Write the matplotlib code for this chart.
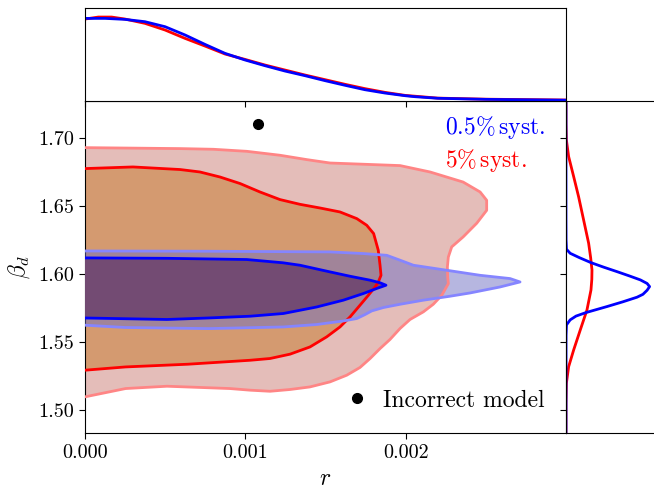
import numpy as np
import matplotlib
matplotlib.use("Agg")
import matplotlib.pyplot as plt

plt.rcParams["font.family"] = "serif"
plt.rcParams["font.serif"] = ["cmr10"]
plt.rcParams["mathtext.fontset"] = "cm"
plt.rcParams["axes.formatter.use_mathtext"] = True

# --- contour outlines (r, beta_d), open along r = 0 ---
red95_r = [0, 0.000253, 0.000593, 0.0008, 0.001009, 0.001216, 0.001383, 0.001528,
           0.001736, 0.001965, 0.002152, 0.002358, 0.002464, 0.002505, 0.002505,
           0.002443, 0.002358, 0.002287, 0.002266, 0.00226, 0.002262, 0.002266,
           0.002225, 0.002172, 0.00211, 0.002027, 0.001965, 0.001902, 0.00184,
           0.001778, 0.001715, 0.001632, 0.001528, 0.001403, 0.001279, 0.001154,
           0.001029, 0.000904, 0.000511, 0.000253, 0]
red95_b = [1.6929, 1.6926, 1.6922, 1.6917, 1.6902, 1.6873, 1.6841, 1.6816,
           1.6807, 1.6797, 1.6750, 1.6676, 1.6603, 1.6542, 1.6468,
           1.6373, 1.6272, 1.6199, 1.6125, 1.6051, 1.5975, 1.5929,
           1.5843, 1.5777, 1.5721, 1.5665, 1.5599, 1.5518, 1.5451,
           1.5378, 1.5312, 1.5255, 1.5206, 1.5169, 1.5150, 1.5137,
           1.5145, 1.5157, 1.5174, 1.5157, 1.5096]

red68_r = [0, 0.000299, 0.000593, 0.000717, 0.000842, 0.000967, 0.001091, 0.001216,
           0.001341, 0.001466, 0.00159, 0.001695, 0.001757, 0.0018, 0.001829,
           0.00184, 0.001846, 0.001829, 0.001809, 0.001767, 0.001715, 0.001653,
           0.00159, 0.001507, 0.001403, 0.001279, 0.001154, 0.001029, 0.000642,
           0.000253, 0]
red68_b = [1.6775, 1.6787, 1.6768, 1.6750, 1.6713, 1.6665, 1.6603, 1.6547,
           1.6512, 1.6485, 1.6456, 1.6407, 1.6358, 1.6297, 1.6174,
           1.6064, 1.5990, 1.5940, 1.5904, 1.5843, 1.5770, 1.5684,
           1.5610, 1.5537, 1.5463, 1.5410, 1.5378, 1.5365, 1.5336,
           1.5316, 1.5292]

blue95_r = [0, 0.000773, 0.001528, 0.001736, 0.001882, 0.001965, 0.002048, 0.002256,
            0.002464, 0.002651, 0.002713, 0.002588, 0.002401, 0.002276, 0.00211,
            0.001965, 0.001861, 0.001788, 0.001746, 0.001695, 0.001611, 0.001445,
            0.001237, 0.000773, 0.000253, 0]
blue95_b = [1.6169, 1.6167, 1.6162, 1.6150, 1.6137, 1.6101, 1.6064, 1.6027,
            1.5990, 1.5966, 1.5941, 1.5904, 1.5860, 1.5836, 1.5807,
            1.5777, 1.5753, 1.5728, 1.5701, 1.5672, 1.5654, 1.5628,
            1.5610, 1.5598, 1.5606, 1.5623]

blue68_r = [0, 0.000511, 0.001009, 0.001235, 0.001341, 0.001528, 0.001653, 0.001778,
            0.00184, 0.001877, 0.001819, 0.001736, 0.001611, 0.001445, 0.001237,
            0.001029, 0.000767, 0.000511, 0]
blue68_b = [1.6118, 1.6115, 1.6106, 1.6082, 1.6064, 1.6015, 1.5983, 1.5954,
            1.5935, 1.5917, 1.5893, 1.5856, 1.5807, 1.5757, 1.5709,
            1.5689, 1.5676, 1.5665, 1.5676]

# --- marginal densities ---
top_r_blue = [0, 0.000125, 0.000249, 0.000374, 0.000499, 0.000624, 0.000748, 0.000873,
              0.000998, 0.001123, 0.001247, 0.001372, 0.001497, 0.001622, 0.001746,
              0.001871, 0.001996, 0.002058, 0.0022, 0.0025, 0.003]
top_blue = [0.995, 0.995, 0.983, 0.955, 0.895, 0.795, 0.682, 0.574,
            0.494, 0.425, 0.361, 0.305, 0.245, 0.189, 0.136,
            0.096, 0.064, 0.052, 0.033, 0.02, 0.01]
top_r_red = [0, 0.0000832, 0.000166, 0.000249, 0.000374, 0.000499, 0.000624, 0.000748,
             0.000873, 0.000998, 0.001123, 0.001247, 0.001372, 0.001497, 0.001622,
             0.001746, 0.001871, 0.001996, 0.0022, 0.0025, 0.003]
top_red = [0.987, 1.011, 1.011, 0.987, 0.935, 0.855, 0.754, 0.662,
           0.566, 0.501, 0.433, 0.373, 0.313, 0.257, 0.201,
           0.149, 0.104, 0.068, 0.035, 0.022, 0.012]

side_b_blue = [1.7272, 1.640, 1.625, 1.6182, 1.6152, 1.6120, 1.6083, 1.6050, 1.6017,
               1.5985, 1.5956, 1.5930, 1.5907, 1.5880, 1.5850, 1.5829, 1.5795, 1.5760,
               1.5716, 1.5690, 1.5662, 1.5625, 1.555, 1.483]
side_blue = [0.0, 0.0, 0.001, 0.006, 0.05, 0.16, 0.30, 0.45, 0.61,
             0.76, 0.89, 0.97, 1.0, 0.97, 0.92, 0.85, 0.68, 0.49,
             0.24, 0.12, 0.05, 0.006, 0.001, 0.0]
side_b_red = [1.7272, 1.7100, 1.6985, 1.6863, 1.6716, 1.6568, 1.6397, 1.6226, 1.6120,
              1.6029, 1.5960, 1.5882, 1.5735, 1.5588, 1.5441, 1.5318, 1.5196, 1.505, 1.483]
side_red = [0.0, 0.0, 0.005, 0.032, 0.092, 0.151, 0.211, 0.271, 0.295,
            0.311, 0.309, 0.299, 0.251, 0.171, 0.092, 0.032, 0.005, 0.0, 0.0]

bad_model = (0.00108, 1.710)

fig = plt.figure(figsize=(6.54, 4.93), dpi=100)
ax = fig.add_axes([0.130, 0.1217, 0.7355, 0.6734])
ax_top = fig.add_axes([0.130, 0.7951, 0.7355, 0.1880], sharex=ax)
ax_side = fig.add_axes([0.8654, 0.1217, 0.1422, 0.6734], sharey=ax)

# filled contours
ax.fill(red95_r, red95_b, color="#e4bdb9", lw=0, zorder=1)
ax.fill(red68_r, red68_b, color="#d49a70", lw=0, zorder=2)
ax.fill(blue95_r, blue95_b, color="#6f6fc3", alpha=0.5, lw=0, zorder=3)
ax.fill(blue68_r, blue68_b, color="#734b73", lw=0, zorder=4)
ax.plot(red95_r, red95_b, color="#ff8585", lw=2, zorder=5)
ax.plot(red68_r, red68_b, color="red", lw=2, zorder=6)
ax.plot(blue95_r, blue95_b, color="#8585ff", lw=2, zorder=7)
ax.plot(blue68_r, blue68_b, color="blue", lw=2, zorder=8)

ax.plot(*bad_model, "o", color="black", ms=7, ls="none", label="Incorrect model", zorder=9)
ax.legend(loc="lower right", frameon=False, fontsize=17, handlelength=0.6,
          handletextpad=0.8)

ax.text(0.748, 0.921, r"$0.5\%\,\mathrm{syst.}$", color="blue", fontsize=17,
        transform=ax.transAxes, va="center", ha="left")
ax.text(0.748, 0.822, r"$5\%\,\mathrm{syst.}$", color="red", fontsize=17,
        transform=ax.transAxes, va="center", ha="left")

ax.set_xlim(0, 0.003)
ax.set_ylim(1.483, 1.7272)
ax.set_xticks([0, 0.001, 0.002])
ax.set_yticks([1.50, 1.55, 1.60, 1.65, 1.70])
ax.xaxis.set_major_formatter(plt.FormatStrFormatter("%.3f"))
ax.yaxis.set_major_formatter(plt.FormatStrFormatter("%.2f"))
ax.tick_params(labelsize=14.5, length=4.5)
ax.set_xlabel(r"$r$", fontsize=17)
ax.set_ylabel(r"$\beta_d$", fontsize=17)

# marginals
ax_top.plot(top_r_red, top_red, color="red", lw=2)
ax_top.plot(top_r_blue, top_blue, color="blue", lw=2)
ax_top.set_ylim(0, 1.116)
ax_top.set_yticks([])
ax_top.tick_params(labelbottom=False, length=4.5)

ax_side.plot(side_red, side_b_red, color="red", lw=2)
ax_side.plot(side_blue, side_b_blue, color="blue", lw=2)
ax_side.set_xlim(0, 1.112)
ax_side.set_xticks([])
ax_side.tick_params(labelleft=False, length=4.5)

fig.savefig("out.png", dpi=100)
